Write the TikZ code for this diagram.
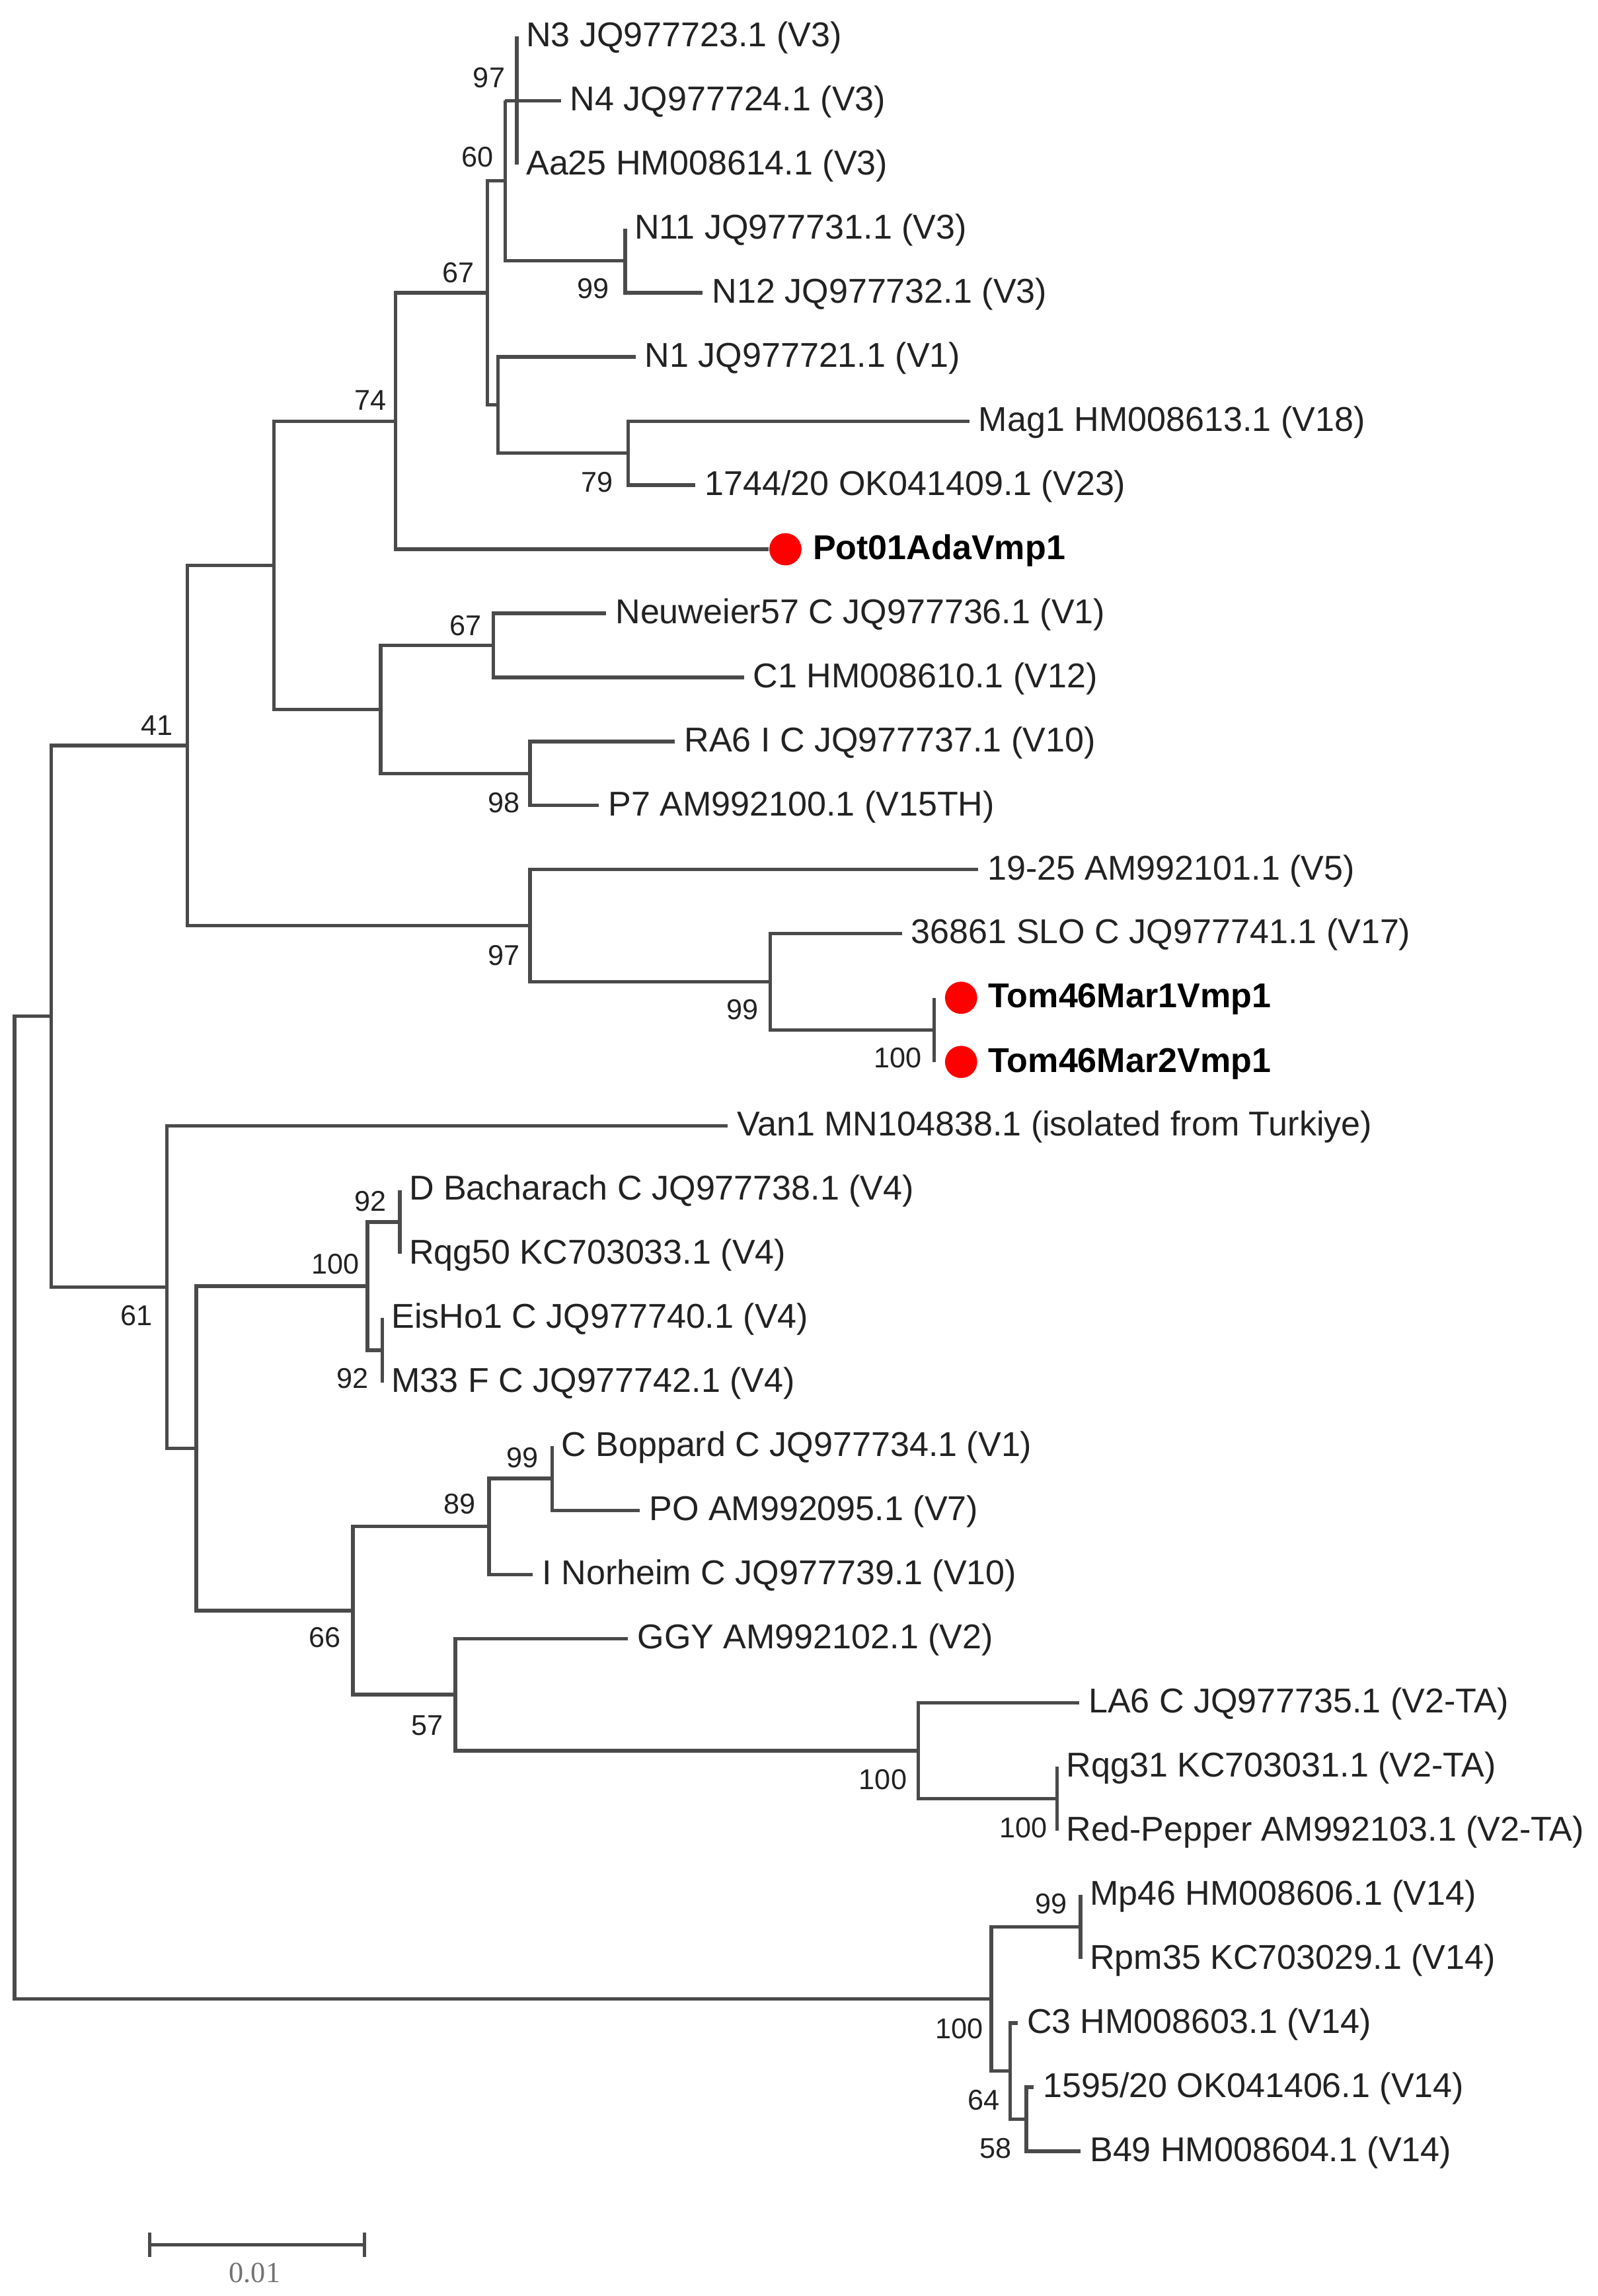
\documentclass[tikz,border=0pt]{standalone}
\usepackage{fontspec}
\setmainfont{Liberation Sans}
\newfontfamily\barfont{Liberation Serif}
\usepackage{tikz}
\usetikzlibrary{arrows.meta,positioning}
\definecolor{twig}{HTML}{4A4A4A}
\definecolor{inkdark}{HTML}{222222}
\definecolor{isolatered}{HTML}{FF0000}
\tikzset{branch/.style={draw=twig,line width=1.2pt}, tiplabel/.style={font=\fontsize{11.75}{14}\selectfont,text=inkdark,inner sep=0pt,text height=6.9pt,text depth=0pt}, ownlabel/.style={tiplabel,font=\fontsize{11.75}{14}\selectfont\bfseries,text=black}, bootval/.style={font=\fontsize{9.75}{11}\selectfont,text=inkdark,inner sep=0pt,text height=7pt,text depth=0pt}, hitdot/.style={circle,fill=isolatered,inner sep=0pt,minimum size=11pt}, barlabel/.style={font=\barfont\fontsize{10}{11}\selectfont,text=black!55,inner sep=0pt}}

\begin{document}
\begin{tikzpicture}[x=0.5pt,y=-0.5pt]
\useasboundingbox (0,0) rectangle (1091,1568);
% internal nodes
\coordinate (root) at (10,1029.6);
\coordinate (nV) at (35,694.0);
\coordinate (n41) at (128,509.1);
\coordinate (nU) at (187,386.0);
\coordinate (n74) at (270,287.6);
\coordinate (n67a) at (333,200.0);
\coordinate (n60) at (345,123.5);
\coordinate (g1) at (345,68.8);
\coordinate (gb) at (353,68.8);
\coordinate (n1112) at (427,178.2);
\coordinate (nX) at (340,276.6);
\coordinate (n79) at (429,309.5);
\coordinate (n260) at (260,484.5);
\coordinate (n67b) at (337,440.7);
\coordinate (n98) at (362,528.3);
\coordinate (n97) at (362,632.2);
\coordinate (n99) at (526,670.5);
\coordinate (n100) at (638,703.3);
\coordinate (n61) at (114,879.0);
\coordinate (nW) at (134,989.1);
\coordinate (n100b) at (251,878.3);
\coordinate (n92a) at (273,834.6);
\coordinate (n92b) at (261,922.1);
\coordinate (n66) at (241,1099.9);
\coordinate (n89) at (334,1042.4);
\coordinate (n99b) at (377,1009.6);
\coordinate (n57) at (311,1157.3);
\coordinate (n100c) at (627,1195.6);
\coordinate (n100d) at (722,1228.4);
\coordinate (n100e) at (677,1365.2);
\coordinate (n99c) at (738,1315.9);
\coordinate (n64) at (690,1414.4);
\coordinate (n58) at (701,1447.2);
% leaf tips
\coordinate (tN3) at (353,25.0);
\coordinate (tN4) at (383,68.8);
\coordinate (tAa25) at (353,112.5);
\coordinate (tN11) at (427,156.3);
\coordinate (tN12) at (480,200.0);
\coordinate (tN1) at (434,243.8);
\coordinate (tMag1) at (662,287.6);
\coordinate (t1744) at (475,331.3);
\coordinate (tPot) at (525,375.1);
\coordinate (tNeu) at (414,418.8);
\coordinate (tC1) at (508,462.6);
\coordinate (tRA6) at (461,506.4);
\coordinate (tP7) at (409,550.1);
\coordinate (t1925) at (668,593.9);
\coordinate (t36861) at (616,637.6);
\coordinate (tTom1) at (638,681.4);
\coordinate (tTom2) at (638,725.2);
\coordinate (tVan1) at (497,768.9);
\coordinate (tDBa) at (273,812.7);
\coordinate (tRqg50) at (273,856.4);
\coordinate (tEis) at (261,900.2);
\coordinate (tM33) at (261,944.0);
\coordinate (tCBo) at (377,987.7);
\coordinate (tPO) at (437,1031.5);
\coordinate (tINo) at (364,1075.2);
\coordinate (tGGY) at (429,1119.0);
\coordinate (tLA6) at (737,1162.8);
\coordinate (tRqg31) at (722,1206.5);
\coordinate (tRedP) at (722,1250.3);
\coordinate (tMp46) at (738,1294.0);
\coordinate (tRpm35) at (738,1337.8);
\coordinate (tC3) at (695,1381.6);
\coordinate (t1595) at (706,1425.3);
\coordinate (tB49) at (738,1469.1);
% branches
\draw[branch] (root) |- (nV) (root) |- (n100e);
\draw[branch] (nV) |- (n41) (nV) |- (n61);
\draw[branch] (n41) |- (nU) (n41) |- (n97);
\draw[branch] (nU) |- (n74) (nU) |- (n260);
\draw[branch] (n74) |- (n67a) (n74) |- (tPot);
\draw[branch] (n67a) |- (n60) (n67a) |- (nX);
\draw[branch] (n60) |- (g1) (n60) |- (n1112);
\draw[branch] (g1) |- (tN4) (g1) |- (gb);
\draw[branch] (gb) |- (tN3) (gb) |- (tAa25);
\draw[branch] (n1112) |- (tN11) (n1112) |- (tN12);
\draw[branch] (nX) |- (tN1) (nX) |- (n79);
\draw[branch] (n79) |- (tMag1) (n79) |- (t1744);
\draw[branch] (n260) |- (n67b) (n260) |- (n98);
\draw[branch] (n67b) |- (tNeu) (n67b) |- (tC1);
\draw[branch] (n98) |- (tRA6) (n98) |- (tP7);
\draw[branch] (n97) |- (t1925) (n97) |- (n99);
\draw[branch] (n99) |- (t36861) (n99) |- (n100);
\draw[branch] (n100) |- (tTom1) (n100) |- (tTom2);
\draw[branch] (n61) |- (tVan1) (n61) |- (nW);
\draw[branch] (nW) |- (n100b) (nW) |- (n66);
\draw[branch] (n100b) |- (n92a) (n100b) |- (n92b);
\draw[branch] (n92a) |- (tDBa) (n92a) |- (tRqg50);
\draw[branch] (n92b) |- (tEis) (n92b) |- (tM33);
\draw[branch] (n66) |- (n89) (n66) |- (n57);
\draw[branch] (n89) |- (n99b) (n89) |- (tINo);
\draw[branch] (n99b) |- (tCBo) (n99b) |- (tPO);
\draw[branch] (n57) |- (tGGY) (n57) |- (n100c);
\draw[branch] (n100c) |- (tLA6) (n100c) |- (n100d);
\draw[branch] (n100d) |- (tRqg31) (n100d) |- (tRedP);
\draw[branch] (n100e) |- (n99c) (n100e) |- (n64);
\draw[branch] (n99c) |- (tMp46) (n99c) |- (tRpm35);
\draw[branch] (n64) |- (tC3) (n64) |- (n58);
\draw[branch] (n58) |- (t1595) (n58) |- (tB49);
% leaf labels
\node[tiplabel,right=3pt of tN3] (lN3) {N3 JQ977723.1 (V3)};
\node[tiplabel,right=3pt of tN4] (lN4) {N4 JQ977724.1 (V3)};
\node[tiplabel,right=3pt of tAa25] (lAa25) {Aa25 HM008614.1 (V3)};
\node[tiplabel,right=3pt of tN11] (lN11) {N11 JQ977731.1 (V3)};
\node[tiplabel,right=3pt of tN12] (lN12) {N12 JQ977732.1 (V3)};
\node[tiplabel,right=3pt of tN1] (lN1) {N1 JQ977721.1 (V1)};
\node[tiplabel,right=3pt of tMag1] (lMag1) {Mag1 HM008613.1 (V18)};
\node[tiplabel,right=3pt of t1744] (l1744) {1744/20 OK041409.1 (V23)};
\node[hitdot,right=0pt of tPot] (dPot) {};
\node[ownlabel,right=3.5pt of dPot] (lPot) {Pot01AdaVmp1};
\node[tiplabel,right=3pt of tNeu] (lNeu) {Neuweier57 C JQ977736.1 (V1)};
\node[tiplabel,right=3pt of tC1] (lC1) {C1 HM008610.1 (V12)};
\node[tiplabel,right=3pt of tRA6] (lRA6) {RA6 I C JQ977737.1 (V10)};
\node[tiplabel,right=3pt of tP7] (lP7) {P7 AM992100.1 (V15TH)};
\node[tiplabel,right=3pt of t1925] (l1925) {19-25 AM992101.1 (V5)};
\node[tiplabel,right=3pt of t36861] (l36861) {36861 SLO C JQ977741.1 (V17)};
\node[hitdot,right=3.5pt of tTom1] (dTom1) {};
\node[ownlabel,right=3.5pt of dTom1] (lTom1) {Tom46Mar1Vmp1};
\node[hitdot,right=3.5pt of tTom2] (dTom2) {};
\node[ownlabel,right=3.5pt of dTom2] (lTom2) {Tom46Mar2Vmp1};
\node[tiplabel,right=3pt of tVan1] (lVan1) {Van1 MN104838.1 (isolated from Turkiye)};
\node[tiplabel,right=3pt of tDBa] (lDBa) {D Bacharach C JQ977738.1 (V4)};
\node[tiplabel,right=3pt of tRqg50] (lRqg50) {Rqg50 KC703033.1 (V4)};
\node[tiplabel,right=3pt of tEis] (lEis) {EisHo1 C JQ977740.1 (V4)};
\node[tiplabel,right=3pt of tM33] (lM33) {M33 F C JQ977742.1 (V4)};
\node[tiplabel,right=3pt of tCBo] (lCBo) {C Boppard C JQ977734.1 (V1)};
\node[tiplabel,right=3pt of tPO] (lPO) {PO AM992095.1 (V7)};
\node[tiplabel,right=3pt of tINo] (lINo) {I Norheim C JQ977739.1 (V10)};
\node[tiplabel,right=3pt of tGGY] (lGGY) {GGY AM992102.1 (V2)};
\node[tiplabel,right=3pt of tLA6] (lLA6) {LA6 C JQ977735.1 (V2-TA)};
\node[tiplabel,right=3pt of tRqg31] (lRqg31) {Rqg31 KC703031.1 (V2-TA)};
\node[tiplabel,right=3pt of tRedP] (lRedP) {Red-Pepper AM992103.1 (V2-TA)};
\node[tiplabel,right=3pt of tMp46] (lMp46) {Mp46 HM008606.1 (V14)};
\node[tiplabel,right=3pt of tRpm35] (lRpm35) {Rpm35 KC703029.1 (V14)};
\node[tiplabel,right=3pt of tC3] (lC3) {C3 HM008603.1 (V14)};
\node[tiplabel,right=3pt of t1595] (l1595) {1595/20 OK041406.1 (V14)};
\node[tiplabel,right=3pt of tB49] (lB49) {B49 HM008604.1 (V14)};
% bootstrap values
\node[bootval] (bgb) at (334,53) {97};
\node[bootval] (b60) at (326,107) {60};
\node[bootval] (b67a) at (313,186) {67};
\node[bootval] (b1112) at (405,197) {99};
\node[bootval] (b74) at (253,273) {74};
\node[bootval] (b79) at (408,329) {79};
\node[bootval] (b67b) at (318,427) {67};
\node[bootval] (b41) at (107,495) {41};
\node[bootval] (b98) at (344,548) {98};
\node[bootval] (b97) at (344,652) {97};
\node[bootval] (b99) at (507,689) {99};
\node[bootval] (b100) at (613,722) {100};
\node[bootval] (b92a) at (253,820) {92};
\node[bootval] (b100b) at (229,863) {100};
\node[bootval] (b61) at (93,898) {61};
\node[bootval] (b92b) at (241,941) {92};
\node[bootval] (b99b) at (357,995) {99};
\node[bootval] (b89) at (314,1027) {89};
\node[bootval] (b66) at (222,1118) {66};
\node[bootval] (b57) at (292,1178) {57};
\node[bootval] (b100c) at (603,1215) {100};
\node[bootval] (b100d) at (699,1248) {100};
\node[bootval] (b99c) at (718,1300) {99};
\node[bootval] (b100e) at (655,1385) {100};
\node[bootval] (b64) at (672,1434) {64};
\node[bootval] (b58) at (680,1467) {58};
% scale bar
\coordinate (sbL) at (101,1533);
\coordinate (sbR) at (250,1533);
\draw[branch,{Bar[width=8.5pt]}-{Bar[width=8.5pt]}] (sbL) -- (sbR);
\node[barlabel] (sbText) at (174,1552) {0.01};
\end{tikzpicture}
\end{document}
